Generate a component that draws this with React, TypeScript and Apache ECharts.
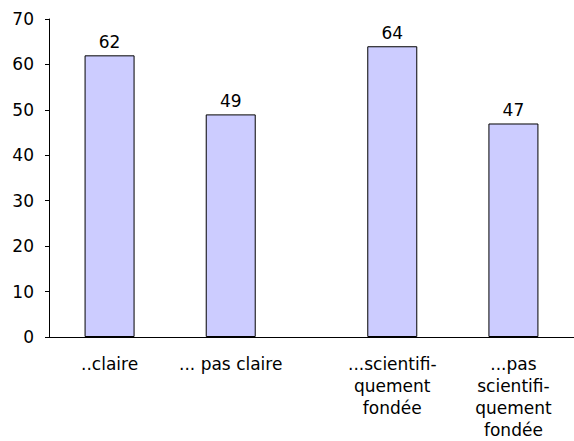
import React, { useEffect, useRef } from "react";
import * as echarts from "echarts";

// 13 equal slots along the x axis; bars occupy slots 1, 4, 8 and 11
const categories: string[] = [
  "",
  "..claire",
  "",
  "",
  "... pas claire",
  "",
  "",
  "",
  "...scientifi-\nquement\nfondée",
  "",
  "",
  "...pas\nscientifi-\nquement\nfondée",
  "",
];
const values: (number | null)[] = [null, 62, null, null, 49, null, null, null, 64, null, null, 47, null];
const yTicks = { min: 0, max: 70, interval: 10 };

const FONT = "DejaVu Sans, Verdana, sans-serif";

export default function App() {
  const ref = useRef<HTMLDivElement>(null);
  useEffect(() => {
    if (!ref.current) return;
    const chart = echarts.init(ref.current, null, { renderer: "svg" });
    chart.setOption({
      animation: false,
      backgroundColor: "#ffffff",
      textStyle: { fontFamily: FONT },
      grid: { left: 49, right: -3, top: 19, bottom: 99, containLabel: false },
      xAxis: {
        type: "category",
        data: categories,
        axisLine: { show: true, lineStyle: { color: "#000", width: 1 } },
        axisTick: { show: false },
        axisLabel: {
          interval: 0,
          color: "#000",
          fontSize: 17,
          fontFamily: FONT,
          lineHeight: 22,
          margin: 16,
          align: "center",
        },
        splitLine: { show: false },
      },
      yAxis: {
        type: "value",
        min: yTicks.min,
        max: yTicks.max,
        interval: yTicks.interval,
        axisLine: { show: true, lineStyle: { color: "#000", width: 1 } },
        axisTick: { show: true, length: 4, inside: false, lineStyle: { color: "#000" } },
        axisLabel: { color: "#000", fontSize: 17, fontFamily: FONT, margin: 15 },
        splitLine: { show: false },
      },
      series: [
        {
          type: "bar",
          data: values,
          barWidth: 50,
          itemStyle: { color: "#CCCCFF", borderColor: "#000", borderWidth: 1 },
          label: {
            show: true,
            position: "top",
            distance: 5,
            color: "#000",
            fontSize: 17,
            fontFamily: FONT,
          },
        },
      ],
    });
    return () => chart.dispose();
  }, []);
  return <div ref={ref} style={{ width: 574, height: 441, position: "absolute", left: 0, top: 0 }} />;
}
